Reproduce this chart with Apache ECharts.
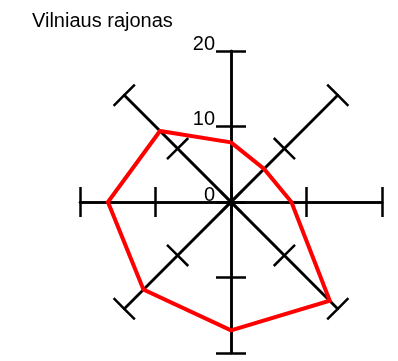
<!DOCTYPE html>
<html>
<head>
<meta charset="utf-8">
<script src="https://cdn.jsdelivr.net/npm/echarts@6/dist/echarts.min.js"></script>
<style>
  html, body { margin: 0; padding: 0; background: #fff; }
  #myChart { width: 398px; height: 361px; }
</style>
</head>
<body>
<div id="myChart"></div>
<script>
    // indicators go counter-clockwise from the top
    var directions = ['N', 'NW', 'W', 'SW', 'S', 'SE', 'E', 'NE'];
    var values = [7.9, 13.3, 16.3, 16.4, 17.0, 18.5, 8.0, 6.2];
    var axisMax = 20;
    var tickLabels = ['0', '10', '20'];

    var myChart;

    function buildIndicators(withLabels) {
        return directions.map(function (d, i) {
            var item = { name: d, max: axisMax, min: 0 };
            // only the vertical (first) axis carries labels
            item.axisLabel = { show: withLabels && i === 0 };
            return item;
        });
    }

    // two identical radars, ticks drawn on opposite sides -> crossbars
    function radarBase(tickLen, withLabels) {
        return {
            center: [231, 202],
            radius: 151,
            startAngle: 90,
            splitNumber: 2,
            shape: 'polygon',
            indicator: buildIndicators(withLabels),
            axisName: { show: false },
            splitLine: { show: false },
            splitArea: { show: false },
            axisLine: { show: true, lineStyle: { color: '#000', width: 2.5 } },
            axisTick: { show: true, inside: false, length: tickLen, lineStyle: { color: '#000', width: 2.5 } },
            axisLabel: {
                show: withLabels,
                margin: 16,
                color: '#000',
                fontSize: 20,
                lineHeight: 14,
                fontFamily: 'Liberation Sans, Arial, sans-serif',
                align: 'right',
                verticalAlign: 'bottom',
                formatter: function (v) {
                    var s = String(v);
                    return tickLabels.indexOf(s) >= 0 ? s : '';
                }
            }
        };
    }

    function init() {
        myChart = echarts.init(document.getElementById('myChart'));
        var option = {
            animation: false,
            title: {
                text: 'Vilniaus rajonas',
                left: 27,
                top: 6,
                textStyle: {
                    color: '#000',
                    fontWeight: 'normal',
                    fontSize: 20,
                    fontFamily: 'Liberation Sans, Arial, sans-serif'
                }
            },
            radar: [radarBase(15, true), radarBase(-15, false)],
            series: [{
                type: 'radar',
                radarIndex: 0,
                symbol: 'none',
                lineStyle: { color: '#ff0000', width: 4, join: 'miter' },
                data: [{ value: values, name: 'Vilniaus rajonas' }]
            }, {
                type: 'radar',
                radarIndex: 1,
                symbol: 'none',
                lineStyle: { opacity: 0 },
                data: []
            }]
        };
        myChart.setOption(option);
    }

    init();
</script>
</body>
</html>
